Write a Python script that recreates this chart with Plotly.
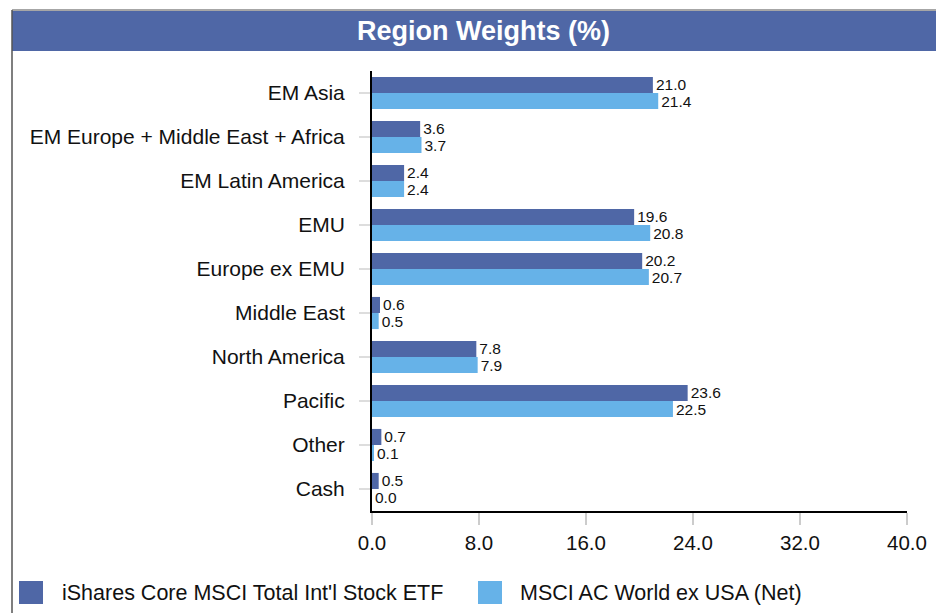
import plotly.graph_objects as go

categories = ["EM Asia", "EM Europe + Middle East + Africa", "EM Latin America", "EMU",
              "Europe ex EMU", "Middle East", "North America", "Pacific", "Other", "Cash"]
fund_name = "iShares Core MSCI Total Int'l Stock ETF"
bench_name = "MSCI AC World ex USA (Net)"
fund_values = [21.0, 3.6, 2.4, 19.6, 20.2, 0.6, 7.8, 23.6, 0.7, 0.5]
bench_values = [21.4, 3.7, 2.4, 20.8, 20.7, 0.5, 7.9, 22.5, 0.1, 0.0]
x_ticks = [0, 8, 16, 24, 32, 40]
title_text = "Region Weights (%)"

DARK = "#4F67A6"
LIGHT = "#66B2E8"
FONT = "Liberation Sans, Arial, sans-serif"

W, H = 936, 613
L, R, T, B = 372, 29, 71, 102
PW, PH = W - L - R, H - T - B


def px(p):
    return (p - L) / PW


def py(p):
    return (H - B - p) / PH


fig = go.Figure()
for name, vals, col in [(fund_name, fund_values, DARK), (bench_name, bench_values, LIGHT)]:
    fig.add_trace(go.Bar(
        y=categories, x=vals, name=name, orientation="h",
        marker=dict(color=col, line=dict(width=0)),
        texttemplate="%{x:.1f}", textposition="outside",
        textfont=dict(size=15.5, color="#111", family=FONT),
        constraintext="none", cliponaxis=False, showlegend=False,
    ))

shapes = [
    # title bar
    dict(type="rect", xref="paper", yref="paper", x0=px(12), x1=px(936), y0=py(51), y1=py(11),
         fillcolor=DARK, line=dict(width=0), layer="below"),
    # frame lines
    dict(type="line", xref="paper", yref="paper", x0=px(12), x1=px(936), y0=py(10), y1=py(10),
         line=dict(color="#888", width=1.5)),
    dict(type="line", xref="paper", yref="paper", x0=px(12), x1=px(12), y0=py(10), y1=py(613),
         line=dict(color="#555", width=1.5)),
    # legend squares
    dict(type="rect", xref="paper", yref="paper", x0=px(19), x1=px(43), y0=py(604), y1=py(581),
         fillcolor=DARK, line=dict(width=0)),
    dict(type="rect", xref="paper", yref="paper", x0=px(478), x1=px(502), y0=py(604), y1=py(581),
         fillcolor=LIGHT, line=dict(width=0)),
]

annotations = [
    dict(text="<b>" + title_text + "</b>", xref="paper", yref="paper", x=px(483), y=py(31),
         xanchor="center", yanchor="middle", showarrow=False,
         font=dict(size=27, color="white", family=FONT)),
    dict(text=fund_name, xref="paper", yref="paper", x=px(60), y=py(593),
         xanchor="left", yanchor="middle", showarrow=False,
         font=dict(size=21.5, color="#111", family=FONT)),
    dict(text=bench_name, xref="paper", yref="paper", x=px(518), y=py(593),
         xanchor="left", yanchor="middle", showarrow=False,
         font=dict(size=21.5, color="#111", family=FONT)),
]

fig.update_layout(
    width=W, height=H,
    margin=dict(l=L, r=R, t=T, b=B, pad=0, autoexpand=False),
    paper_bgcolor="white", plot_bgcolor="white",
    barmode="group", bargap=0.27, bargroupgap=0,
    shapes=shapes, annotations=annotations,
    font=dict(family=FONT, color="#111"),
    xaxis=dict(range=[0, 40], tickvals=x_ticks, tickformat=".1f",
               showgrid=False, zeroline=False, automargin=False,
               showline=True, linecolor="black", linewidth=2,
               ticks="outside", ticklen=12, tickcolor="#cccccc", tickwidth=1.5,
               tickfont=dict(size=20.5, family=FONT, color="#111"), fixedrange=True),
    yaxis=dict(autorange="reversed", showgrid=False, zeroline=False, automargin=False,
               showline=True, linecolor="black", linewidth=2,
               ticks="outside", ticklen=11, tickcolor="#dddddd", tickwidth=1.5,
               ticklabelstandoff=10,
               tickfont=dict(size=21, family=FONT, color="#111"), fixedrange=True),
)

fig.write_html(
    "out.html",
    config={"displayModeBar": False, "responsive": False},
    post_script="document.body.style.margin='0px';document.body.style.overflow='hidden';"
                "document.documentElement.style.overflow='hidden';",
)
